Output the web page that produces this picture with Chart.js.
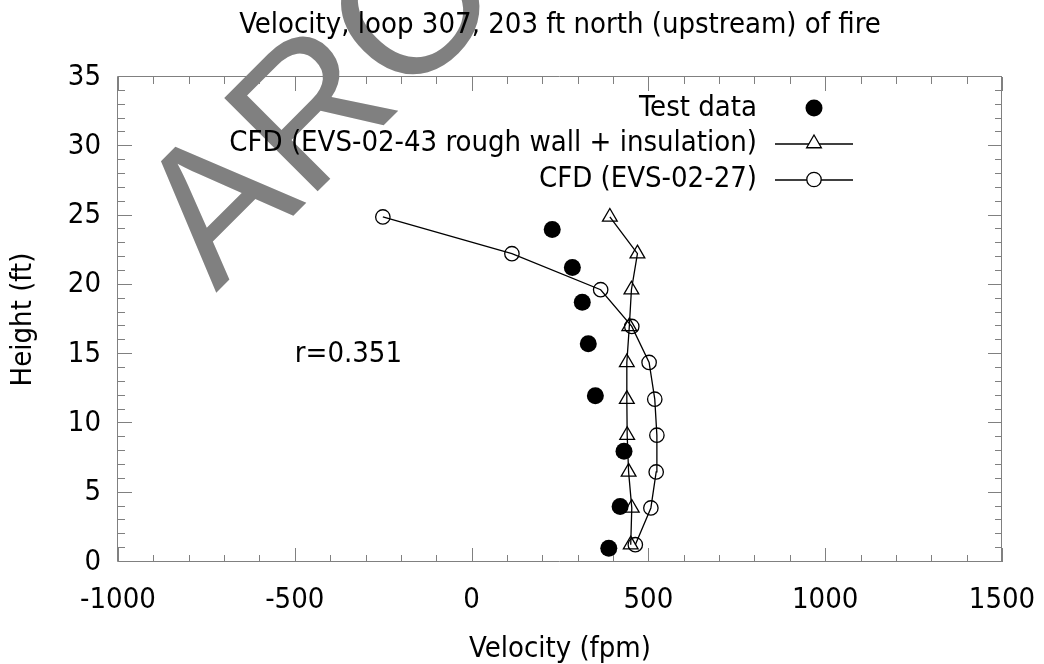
<!DOCTYPE html>
<html>
<head>
<meta charset="utf-8">
<title>Velocity, loop 307</title>
<script src="https://cdn.jsdelivr.net/npm/chart.js"></script>
<style>
  html, body { margin: 0; background: #fff; }
  canvas { display: block; }
</style>
</head>
<body>
<canvas id="chart" width="1044" height="664"></canvas>
<script>
// values: velocity in fpm, height in ft
const testVel    = [388, 420, 431, 350, 330, 313, 285, 228];
const testHeight = [1, 4, 8, 12, 15.75, 18.75, 21.25, 24];

const cfdHeight = [1.25, 3.9, 6.5, 9.15, 11.75, 14.4, 17.0, 19.65, 22.25, 24.9];
const cfd43Vel  = [450, 453, 444, 440, 439, 439, 446, 452, 469, 391];
const cfd27Vel  = [463, 507, 522, 524, 518, 502, 453, 365, 114, -251];

const seriesNames = ['Test data', 'CFD (EVS-02-43 rough wall + insulation)', 'CFD (EVS-02-27)'];
const xRange = [-1000, 1500];
const yRange = [0, 35];
const xStep = 500, yStep = 5;
const corrText = 'r=0.351';
const corrAt = [-500, 15];

const FONT = '"DejaVu Sans Condensed", "Liberation Sans"';
const FS = 29;
const GRAY = '#808080';

const toPts = (xs, ys) => xs.map((v, i) => ({ x: v, y: ys[i] }));

// gray watermark behind everything
const watermark = {
  id: 'watermark',
  beforeDraw(chart) {
    const ctx = chart.ctx;
    ctx.save();
    ctx.fillStyle = '#fff';
    ctx.fillRect(0, 0, chart.width, chart.height);
    ctx.translate(216, 293);
    ctx.rotate(-Math.PI / 4);
    ctx.fillStyle = GRAY;
    ctx.font = '192px "Liberation Sans"';
    ctx.textBaseline = 'alphabetic';
    ctx.fillText('ARO', 0, 0);
    ctx.restore();
  }
};

// box round the plot with inward major/minor ticks on all four sides
const frameTicks = {
  id: 'frameTicks',
  beforeDatasetsDraw(chart) {
    const { ctx, chartArea: a, scales: { x, y } } = chart;
    ctx.save();
    ctx.strokeStyle = GRAY;
    ctx.lineWidth = 1;
    ctx.beginPath();
    ctx.rect(Math.round(a.left) - 0.5, Math.round(a.top) - 0.5,
             Math.round(a.width), Math.round(a.height));
    const sub = 5;
    x.ticks.forEach((t, i) => {
      const px = Math.round(x.getPixelForValue(t.value)) + 0.5;
      ctx.moveTo(px, a.bottom); ctx.lineTo(px, a.bottom - 14);
      ctx.moveTo(px, a.top); ctx.lineTo(px, a.top + 14);
      if (i < x.ticks.length - 1) {
        const next = x.ticks[i + 1].value;
        for (let k = 1; k < sub; k++) {
          const mx = Math.round(x.getPixelForValue(t.value + (next - t.value) * k / sub)) + 0.5;
          ctx.moveTo(mx, a.bottom); ctx.lineTo(mx, a.bottom - 7);
          ctx.moveTo(mx, a.top); ctx.lineTo(mx, a.top + 7);
        }
      }
    });
    y.ticks.forEach((t, i) => {
      const py = Math.round(y.getPixelForValue(t.value)) - 0.5;
      ctx.moveTo(a.left, py); ctx.lineTo(a.left + 14, py);
      ctx.moveTo(a.right, py); ctx.lineTo(a.right - 14, py);
      if (i < y.ticks.length - 1) {
        const next = y.ticks[i + 1].value;
        for (let k = 1; k < sub; k++) {
          const my = Math.round(y.getPixelForValue(t.value + (next - t.value) * k / sub)) - 0.5;
          ctx.moveTo(a.left, my); ctx.lineTo(a.left + 7, my);
          ctx.moveTo(a.right, my); ctx.lineTo(a.right - 7, my);
        }
      }
    });
    ctx.stroke();
    ctx.restore();
  }
};

// gnuplot-style key (text right aligned, sample on the right) and the r label
const keyAndNote = {
  id: 'keyAndNote',
  afterDatasetsDraw(chart) {
    const { ctx, scales: { x, y } } = chart;
    ctx.save();
    ctx.font = `${FS}px ${FONT}`;
    ctx.fillStyle = '#000';
    ctx.textBaseline = 'middle';

    const rows = [108, 143.5, 179.5];
    chart.data.datasets.forEach((ds, i) => {
      const ry = rows[i];
      ctx.textAlign = 'right';
      ctx.fillStyle = '#000';
      ctx.fillText(ds.label, 757, ry);
      if (ds.showLine) {
        ctx.strokeStyle = ds.borderColor;
        ctx.lineWidth = ds.borderWidth;
        ctx.beginPath();
        ctx.moveTo(775, ry + 0.5); ctx.lineTo(853, ry + 0.5);
        ctx.stroke();
      }
      ctx.fillStyle = ds.showLine ? '#fff' : ds.pointBackgroundColor;
      ctx.strokeStyle = ds.pointBorderColor;
      Chart.helpers.drawPoint(ctx, {
        pointStyle: ds.pointStyle,
        radius: ds.pointRadius,
        rotation: 0,
        borderWidth: ds.pointBorderWidth
      }, 814, ry);
    });

    ctx.fillStyle = '#000';
    ctx.textAlign = 'left';
    ctx.fillText(corrText, x.getPixelForValue(corrAt[0]), y.getPixelForValue(corrAt[1]));
    ctx.restore();
  }
};

Chart.defaults.color = '#000';
Chart.defaults.font.family = FONT;
Chart.defaults.font.size = FS;

const plainTick = v => String(v);

new Chart(document.getElementById('chart'), {
  type: 'scatter',
  data: {
    datasets: [
      {
        label: seriesNames[0],
        data: toPts(testVel, testHeight),
        showLine: false,
        pointStyle: 'circle',
        pointRadius: 8.5,
        pointBackgroundColor: '#000',
        pointBorderColor: '#000',
        pointBorderWidth: 0
      },
      {
        label: seriesNames[1],
        data: toPts(cfd43Vel, cfdHeight),
        showLine: true,
        borderColor: '#000',
        borderWidth: 1.3,
        pointStyle: 'triangle',
        pointRadius: 8.5,
        pointBackgroundColor: 'rgba(0,0,0,0)',
        pointBorderColor: '#000',
        pointBorderWidth: 1.3
      },
      {
        label: seriesNames[2],
        data: toPts(cfd27Vel, cfdHeight),
        showLine: true,
        borderColor: '#000',
        borderWidth: 1.3,
        pointStyle: 'circle',
        pointRadius: 7.2,
        pointBackgroundColor: 'rgba(0,0,0,0)',
        pointBorderColor: '#000',
        pointBorderWidth: 1.3
      }
    ]
  },
  options: {
    responsive: false,
    devicePixelRatio: 1,
    animation: false,
    layout: { padding: { top: 0, right: 42, bottom: 0, left: 0 } },
    plugins: {
      legend: { display: false },
      tooltip: { enabled: false },
      title: {
        display: true,
        fullSize: false,
        text: 'Velocity, loop 307, 203 ft north (upstream) of fire',
        color: '#000',
        font: { size: FS, weight: 'normal', lineHeight: 1.2 },
        padding: { top: 8, bottom: 77 - 8 - FS * 1.2 }
      }
    },
    scales: {
      x: {
        type: 'linear',
        min: xRange[0],
        max: xRange[1],
        ticks: { stepSize: xStep, padding: 21, maxRotation: 0, callback: plainTick },
        grid: { display: false, drawTicks: false },
        border: { display: false },
        title: {
          display: true,
          text: 'Velocity (fpm)',
          font: { size: FS, lineHeight: 1 },
          padding: { top: 0, bottom: 0 }
        },
        afterFit(s) { s.height = 102; s.paddingLeft = 0; s.paddingRight = 0; }
      },
      y: {
        type: 'linear',
        min: yRange[0],
        max: yRange[1],
        ticks: { stepSize: yStep, padding: 17, callback: plainTick },
        grid: { display: false, drawTicks: false },
        border: { display: false },
        title: {
          display: true,
          text: 'Height (ft)',
          font: { size: FS, lineHeight: 1 },
          padding: { top: 9, bottom: 0 }
        },
        afterFit(s) { s.width = 118; s.paddingTop = 0; s.paddingBottom = 0; }
      }
    }
  },
  plugins: [watermark, frameTicks, keyAndNote]
});
</script>
</body>
</html>
